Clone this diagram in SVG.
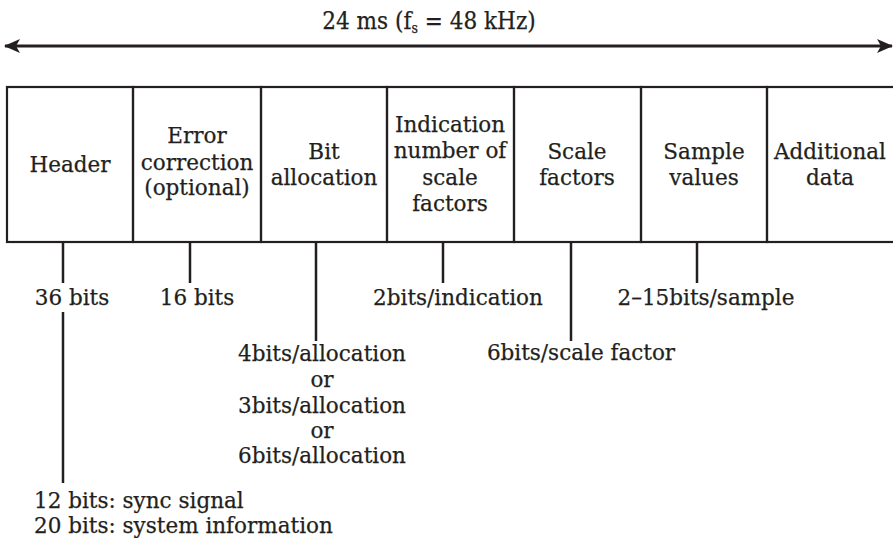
<svg xmlns="http://www.w3.org/2000/svg" width="893" height="538" viewBox="0 0 893 538">
  <style>
    text { font-family: "DejaVu Serif", "Liberation Serif", serif; font-size: 21.5px; fill: #231f20; stroke: #231f20; stroke-width: 0.25; }
    .c { text-anchor: middle; }
    .title { font-size: 24px; font-stretch: condensed; }
    .frame { fill: none; stroke: #231f20; stroke-width: 2.2; }
    .lead { stroke: #231f20; stroke-width: 2.5; fill: none; }
  </style>
  <defs>
    <marker id="head" viewBox="0 0 16 14" refX="15" refY="7" markerWidth="16" markerHeight="14" markerUnits="userSpaceOnUse" orient="auto-start-reverse">
      <path d="M0,0 L16,7 L0,14 L4,7 Z" fill="#231f20"/>
    </marker>
  </defs>
  <rect width="893" height="538" fill="#ffffff"/>

  <!-- frame duration -->
  <g id="duration">
    <text x="429" y="29" class="c title">24 ms (f<tspan font-size="14" dy="4">s</tspan><tspan dy="-4"> = 48 kHz)</tspan></text>
    <line x1="5" y1="46" x2="892" y2="46" stroke="#231f20" stroke-width="3" marker-start="url(#head)" marker-end="url(#head)"/>
  </g>

  <!-- frame fields -->
  <g id="header">
    <rect x="7" y="87" width="126" height="155" class="frame"/>
    <text x="70" y="172" class="c">Header</text>
  </g>
  <g id="error-correction">
    <rect x="133" y="87" width="128" height="155" class="frame"/>
    <text x="197" y="143" class="c">Error</text>
    <text x="197" y="170" class="c">correction</text>
    <text x="197" y="195" class="c">(optional)</text>
  </g>
  <g id="bit-allocation">
    <rect x="261" y="87" width="126" height="155" class="frame"/>
    <text x="324" y="159" class="c">Bit</text>
    <text x="324" y="185" class="c">allocation</text>
  </g>
  <g id="scale-factor-indication">
    <rect x="387" y="87" width="127" height="155" class="frame"/>
    <text x="450" y="132" class="c">Indication</text>
    <text x="450" y="158" class="c">number of</text>
    <text x="450" y="185" class="c">scale</text>
    <text x="450" y="211" class="c">factors</text>
  </g>
  <g id="scale-factors">
    <rect x="514" y="87" width="127" height="155" class="frame"/>
    <text x="577" y="159" class="c">Scale</text>
    <text x="577" y="185" class="c">factors</text>
  </g>
  <g id="sample-values">
    <rect x="641" y="87" width="126" height="155" class="frame"/>
    <text x="704" y="159" class="c">Sample</text>
    <text x="704" y="185" class="c">values</text>
  </g>
  <g id="additional-data">
    <rect x="767" y="87" width="130" height="155" class="frame"/>
    <text x="830" y="159" class="c">Additional</text>
    <text x="830" y="185" class="c">data</text>
  </g>

  <!-- leader lines -->
  <g id="connectors">
    <line x1="63" y1="242" x2="63" y2="283" class="lead"/>
    <line x1="63" y1="312" x2="63" y2="483" class="lead"/>
    <line x1="190" y1="242" x2="190" y2="283" class="lead"/>
    <line x1="316" y1="242" x2="316" y2="341" class="lead"/>
    <line x1="443" y1="242" x2="443" y2="283" class="lead"/>
    <line x1="571" y1="242" x2="571" y2="341" class="lead"/>
    <line x1="697" y1="242" x2="697" y2="283" class="lead"/>
  </g>

  <!-- field sizes -->
  <g id="sizes">
    <text x="72" y="305" class="c">36 bits</text>
    <text x="197" y="305" class="c">16 bits</text>
    <text x="322" y="361" class="c">4bits/allocation</text>
    <text x="322" y="387" class="c">or</text>
    <text x="322" y="413" class="c">3bits/allocation</text>
    <text x="322" y="438" class="c">or</text>
    <text x="322" y="463" class="c">6bits/allocation</text>
    <text x="458" y="305" class="c">2bits/indication</text>
    <text x="581" y="360" class="c">6bits/scale factor</text>
    <text x="706" y="305" class="c">2–15bits/sample</text>
    <text x="34" y="508">12 bits: sync signal</text>
    <text x="34" y="533">20 bits: system information</text>
  </g>
</svg>
